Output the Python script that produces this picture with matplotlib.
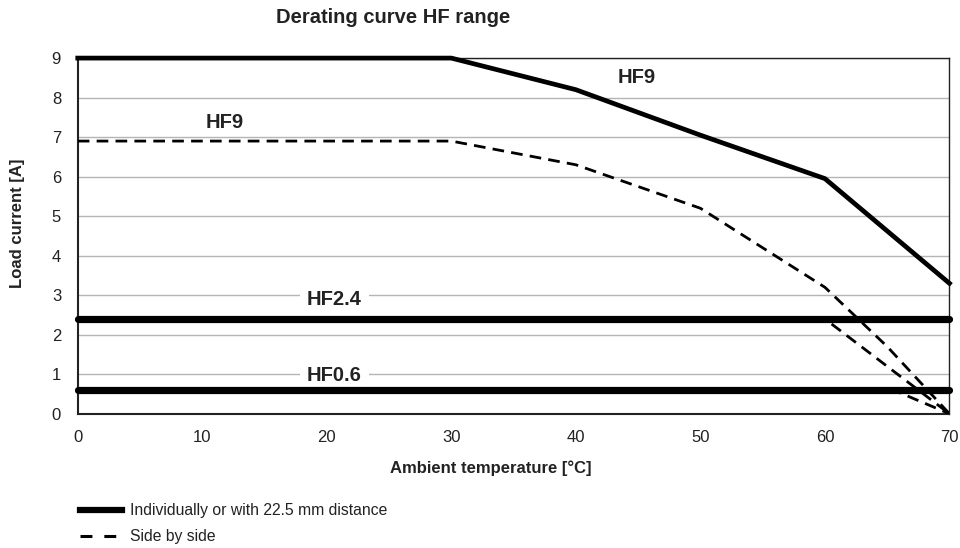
import matplotlib.pyplot as plt
from matplotlib.lines import Line2D

plt.rcParams['font.family'] = ['Liberation Sans', 'DejaVu Sans']

# data
temp_hf9 = [0, 30, 40, 50, 60, 70]
load_hf9 = [9, 9, 8.2, 7.05, 5.95, 3.3]
temp_hf9_sbs = [0, 30, 40, 50, 60, 65, 70]
load_hf9_sbs = [6.9, 6.9, 6.3, 5.2, 3.2, 1.7, 0]
temp_hf24 = [0, 70]
load_hf24 = [2.4, 2.4]
temp_hf24_sbs = [0, 60, 70]
load_hf24_sbs = [2.4, 2.4, 0]
temp_hf06 = [0, 70]
load_hf06 = [0.6, 0.6]
temp_hf06_sbs = [0, 65.5, 70]
load_hf06_sbs = [0.6, 0.6, 0]

x_ticks = [0, 10, 20, 30, 40, 50, 60, 70]
y_ticks = [0, 1, 2, 3, 4, 5, 6, 7, 8, 9]

fig = plt.figure(figsize=(9.6, 5.48), dpi=100)
ax = fig.add_axes([0.081, 0.245, 0.908, 0.649])

dash = (4.2, 2.6)
ax.plot(temp_hf9_sbs, load_hf9_sbs, color='black', lw=2.0, dashes=dash, zorder=3)
ax.plot(temp_hf24_sbs, load_hf24_sbs, color='black', lw=2.0, dashes=dash, zorder=3)
ax.plot(temp_hf06_sbs, load_hf06_sbs, color='black', lw=2.0, dashes=dash, zorder=3)

ax.plot(temp_hf9, load_hf9, color='black', lw=3.4, zorder=4, clip_on=False)
ax.plot(temp_hf24, load_hf24, color='black', lw=5.2, zorder=4, clip_on=False,
        solid_capstyle='round')
ax.plot(temp_hf06, load_hf06, color='black', lw=5.2, zorder=4, clip_on=False,
        solid_capstyle='round')

ax.set_xlim(0, 70)
ax.set_ylim(0, 9)
ax.set_xticks(x_ticks)
ax.set_yticks(y_ticks)
ax.tick_params(length=0, labelsize=12, pad=12, colors='#222222')
ax.yaxis.grid(True, color='#b5b5b5', lw=1)
ax.set_axisbelow(True)
for s in ax.spines.values():
    s.set_color('#222222')
    s.set_linewidth(1.0)
ax.spines['left'].set_linewidth(1.5)
ax.spines['bottom'].set_linewidth(1.5)

bold = dict(fontsize=14.5, fontweight='bold', color='#222222')
ax.text(44.9, 8.5, 'HF9', ha='center', va='center', **bold)
ax.text(11.8, 7.37, 'HF9', ha='center', va='center', **bold)
ax.text(20.6, 2.9, 'HF2.4', ha='center', va='center', zorder=2,
        bbox=dict(facecolor='white', edgecolor='none', pad=5), **bold)
ax.text(20.6, 0.98, 'HF0.6', ha='center', va='center', zorder=2,
        bbox=dict(facecolor='white', edgecolor='none', pad=5), **bold)

fig.text(0.41, 0.968, 'Derating curve HF range', ha='center', va='center',
         fontsize=14.5, fontweight='bold', color='#222222')
fig.text(0.511, 0.146, 'Ambient temperature [°C]', ha='center', va='center',
         fontsize=12, fontweight='bold', color='#222222')
fig.text(0.018, 0.593, 'Load current [A]', ha='center', va='center', rotation=90,
         fontsize=12, fontweight='bold', color='#222222')

handles = [Line2D([], [], color='black', lw=4.5),
           Line2D([], [], color='black', lw=2.2, dashes=(3.9, 3.9))]
fig.legend(handles, ['Individually or with 22.5 mm distance', 'Side by side'],
           loc='upper left', bbox_to_anchor=(0.075, 0.096), frameon=False,
           fontsize=11.3, handlelength=2.7, handletextpad=0.5, labelspacing=0.7,
           borderpad=0, labelcolor='#222222')

fig.savefig('out.png', dpi=100)
